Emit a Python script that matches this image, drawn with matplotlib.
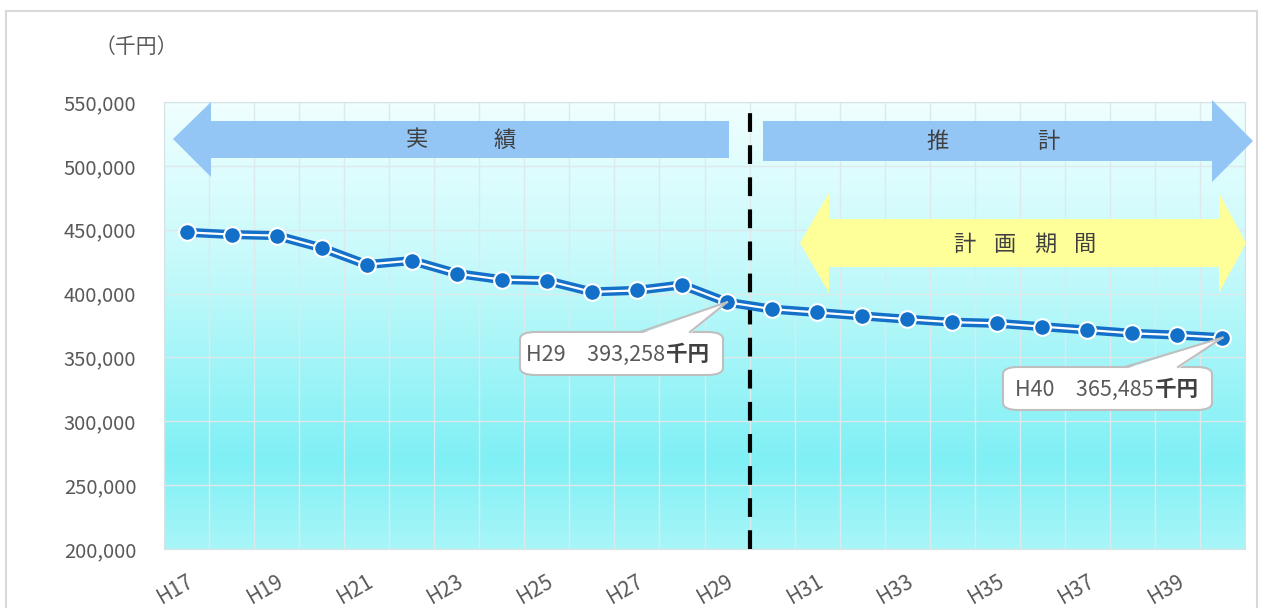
import numpy as np
import matplotlib
matplotlib.use("Agg")
import matplotlib.pyplot as plt
from matplotlib.patches import Polygon, FancyBboxPatch, Rectangle
from matplotlib.colors import to_rgb

plt.rcParams['font.family'] = ['Noto Sans CJK JP', 'DejaVu Sans']

# data
years = ["H%d" % y for y in range(17, 41)]
values = [448000, 446200, 445400, 435800, 422700, 425800, 415700, 410900, 410100,
          401300, 402500, 406800, 393258,
          387800, 385200, 382500, 379900, 377600, 376700, 374100, 371500, 368900,
          367500, 365485]
yticks = [200000, 250000, 300000, 350000, 400000, 450000, 500000, 550000]
callouts = [("H29", "393,258"), ("H40", "365,485")]

W, H = 1261, 608
fig = plt.figure(figsize=(W / 100, H / 100), dpi=100)
fig.patch.set_facecolor("white")


def P(x, y):
    # reference pixel (top-left origin) -> figure fraction
    return (x / W, 1 - y / H)


# outer frame
fig.patches.append(Rectangle(P(6, 640), (1257 - 6) / W, (640 - 11) / H,
                             transform=fig.transFigure, fill=False,
                             edgecolor="#D9D9D9", lw=1.5, zorder=0))

l, b = P(164, 549)
r, t = P(1245, 102)
ax = fig.add_axes([l, b, r - l, t - b])
n = len(years)
ax.set_xlim(-0.5, n - 0.5)
ax.set_ylim(200000, 550000)

# gradient background
stops = [(0.0, "#F0FFFF"), (0.35, "#C8FAFB"), (0.8, "#7FF0F5"), (1.0, "#A8F6F8")]
ys = np.linspace(0, 1, 300)
grad = np.zeros((300, 1, 3))
for c in range(3):
    grad[:, 0, c] = np.interp(ys, [s[0] for s in stops], [to_rgb(s[1])[c] for s in stops])
ax.imshow(grad, extent=(-0.5, n - 0.5, 200000, 550000), aspect="auto",
          origin="upper", zorder=0)

# grid
for v in yticks:
    ax.axhline(v, color="#DDE9EA", lw=1, zorder=1)
for i in range(n + 1):
    ax.axvline(i - 0.5, color="#DDE9EA", lw=1, zorder=1)
for s in ax.spines.values():
    s.set_color("#D5E3E4")

x = np.arange(n)
ax.plot(x, values, color="#1470C8", lw=6.5, zorder=4, solid_capstyle="round")
ax.plot(x, values, color="white", lw=1.6, zorder=4)
ax.plot(x, values, ls="none", marker="o", ms=12, mfc="#1270C8", mec="white",
        mew=1.5, zorder=5)

ax.set_yticks(yticks)
ax.set_yticklabels(["{:,}".format(v) for v in yticks], fontsize=14.5, color="#595959")
ax.set_xticks(x[::2])
ax.set_xticklabels(years[::2], fontsize=15, color="#595959", rotation=30,
                   ha="right", rotation_mode="anchor")
ax.tick_params(axis="y", length=0, pad=20)
ax.tick_params(axis="x", length=0, pad=15)

# divider between actual / forecast
ax.axvline(12.5, color="black", lw=3, ls=(0, (4.5, 3.2)), zorder=3)

fig.text(*P(136, 47), "（千円）", fontsize=15, color="#595959", ha="center", va="center")

# arrows
blue = "#93C5F5"
left_arrow = [(173, 139), (211, 102), (211, 121), (729, 121), (729, 158), (211, 158), (211, 177)]
right_arrow = [(763, 121), (1212, 121), (1212, 100), (1253, 141), (1212, 182), (1212, 161), (763, 161)]
yellow_arrow = [(800, 243), (829, 193), (829, 219), (1219, 219), (1219, 193), (1246, 243),
                (1219, 293), (1219, 267), (829, 267), (829, 293)]
for pts, col in [(left_arrow, blue), (right_arrow, blue), (yellow_arrow, "#FFFF99")]:
    fig.patches.append(Polygon([P(*p) for p in pts], closed=True, transform=fig.transFigure,
                               facecolor=col, edgecolor="none", zorder=2))

for ch, px in [("実", 417), ("績", 505)]:
    fig.text(*P(px, 140), ch, fontsize=16, color="#404040", ha="center", va="center", zorder=6)
for ch, px in [("推", 938), ("計", 1048)]:
    fig.text(*P(px, 141), ch, fontsize=16, color="#404040", ha="center", va="center", zorder=6)
for ch, px in zip("計画期間", [964, 1005, 1045, 1085]):
    fig.text(*P(px, 244), ch, fontsize=16, color="#404040", ha="center", va="center", zorder=6)

# callouts
to_fig = fig.transFigure.inverted()
boxes = [(520, 332, 723, 375, 640, 690, 665), (1003, 367, 1212, 410, 1125, 1178, 1154)]
for (lab, val), (x0, y0, x1, y1, b0, b1, split), idx in zip(callouts, boxes, [12, n - 1]):
    apex = to_fig.transform(ax.transData.transform((idx, values[idx])))
    fx0, fy1 = P(x0, y1)
    fx1, fy0 = P(x1, y0)
    box = FancyBboxPatch((fx0, fy1), fx1 - fx0, fy0 - fy1,
                         boxstyle="round,pad=0,rounding_size=0.012",
                         transform=fig.transFigure, facecolor="white",
                         edgecolor="#BFBFBF", lw=1.5, zorder=7)
    fig.patches.append(box)
    tri = [P(b0, y0 + 2), tuple(apex), P(b1, y0 + 2)]
    fig.patches.append(Polygon(tri, closed=True, transform=fig.transFigure,
                               facecolor="white", edgecolor="none", zorder=8))
    for bx in (b0, b1):
        fig.lines.append(plt.Line2D([P(bx, y0)[0], apex[0]], [P(bx, y0)[1], apex[1]],
                                    transform=fig.transFigure, color="#BFBFBF",
                                    lw=1.5, zorder=9))
    ym = (y0 + y1) / 2 + 1
    fig.text(*P(split, ym), lab + "\u3000" + val, fontsize=15.5, color="#595959",
             ha="right", va="center", zorder=10)
    fig.text(*P(split + 1, ym), "千円", fontsize=15.5, color="#404040", fontweight="bold",
             ha="left", va="center", zorder=10)

fig.savefig("out.png", dpi=100)
